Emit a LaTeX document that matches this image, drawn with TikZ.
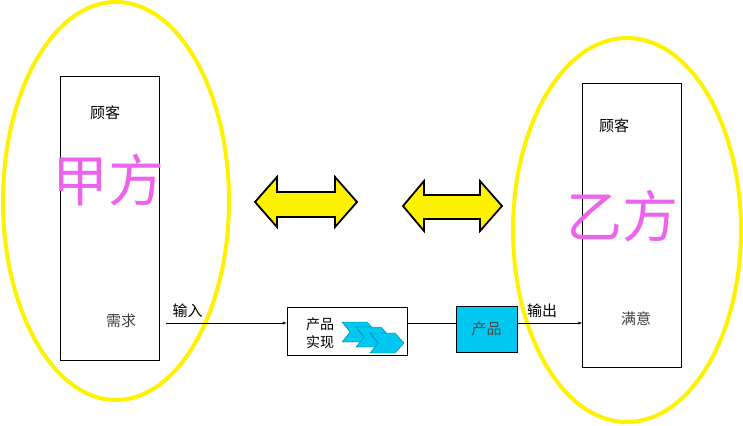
\documentclass[tikz,border=0pt]{standalone}
\usepackage{fontspec}
\setmainfont{Liberation Sans}
\newfontfamily\cjk{Noto Sans CJK SC}
\usepackage{tikz}
\usetikzlibrary{positioning}

\definecolor{partypink}{RGB}{236,100,236}
\definecolor{prodcyan}{RGB}{0,200,240}
\tikzset{
  party/.style={draw=yellow,line width=4pt},
  custbox/.style={draw,thin,minimum width=99pt,minimum height=284pt,inner sep=0pt},
  small/.style={font=\cjk\fontsize{15}{17}\selectfont,inner sep=0pt},
  big/.style={font=\cjk\fontsize{56}{60}\selectfont,text=partypink,inner sep=0pt},
  dblarrow/.style={draw,fill=yellow,line width=1.8pt,line join=miter},
  chevron/.style={fill=prodcyan,draw=prodcyan!60!black,thin},
}

\begin{document}
\begin{tikzpicture}[x=1pt,y=-1pt]
      \useasboundingbox (0,0) rectangle (743,425);
      % the two parties
      \draw[party] (116,201) ellipse (113 and 199);
      \draw[party] (627,230) ellipse (114 and 192);
      \node[custbox] (buyer) at (109.5,218) {};
      \node[custbox] (seller) at (632,225) {};
      \node[small] (buyerc) at (105,113) {顾客};
      \node[small] (sellerc) at (614,126) {顾客};
      \node[big] (jia) at (108,180) {甲方};
      \node[big] (yi) at (622,216) {乙方};
      \node[small,text=black!75] (need) at (121,321) {需求};
      \node[small,text=black!75] (satis) at (636,319) {满意};
      % exchange arrows
      \draw[dblarrow] (255,202) -- (277,177) -- (277,192) -- (335,192) -- (335,177) -- (357,202)
        -- (335,227) -- (335,217) -- (277,217) -- (277,227) -- cycle;
      \draw[dblarrow] (403,206) -- (424,181) -- (424,195) -- (480,195) -- (480,181) -- (502,206)
        -- (480,231) -- (480,219) -- (424,219) -- (424,231) -- cycle;
      % realisation
      \node[draw,thin,minimum width=120pt,minimum height=48pt,inner sep=0pt] (real) at (347,331) {};
      \node[small,align=center,font=\cjk\fontsize{14}{18}\selectfont] (realt) at (320,333) {产品\\实现};
      \foreach \dx/\dy in {342/322,356/327,370/333}
        \draw[chevron] (\dx,\dy) -- ++(25,0) -- ++(9,10) -- ++(-9,10) -- ++(-25,0) -- ++(8,-10) -- cycle;
      \node[draw,thick,fill=prodcyan,minimum width=61pt,minimum height=46pt,inner sep=0pt,
        font=\cjk\fontsize{15}{17}\selectfont,text=black!70] (prod) at (486.5,329) {产品};
      % flow
      \coordinate (in) at (166,323);
      \draw[-latex] (in) -- node[small,above=5pt,pos=0.18] (inlab) {输入} (real.west |- in);
      \draw (real.east |- in) -- (prod.west |- in);
      \draw[-latex] (prod.east |- in) -- node[small,above=5pt,pos=0.38] (outlab) {输出} (seller.west |- in);
    \end{tikzpicture}
\end{document}
